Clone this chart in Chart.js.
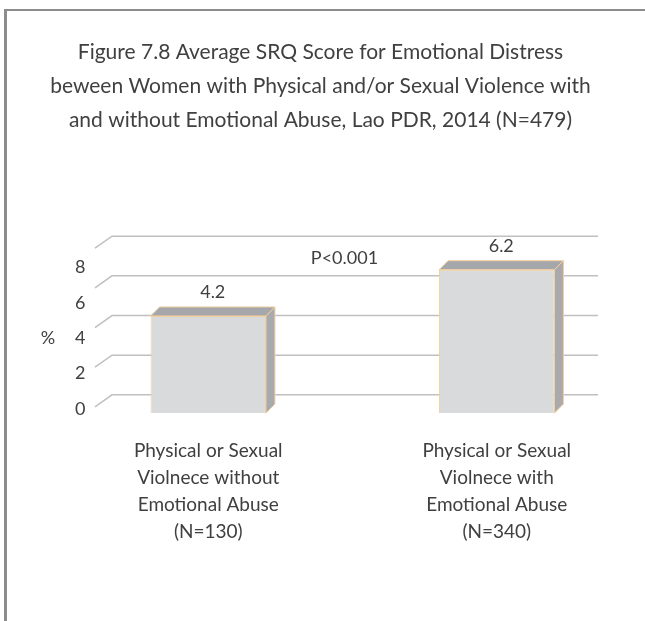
<!DOCTYPE html>
<html>
<head>
<meta charset="utf-8">
<script src="https://cdn.jsdelivr.net/npm/chart.js@4.4.1/dist/chart.umd.min.js"></script>
<style>
  body { margin: 0; background: #fff; }
  #wrap { position: relative; width: 645px; height: 621px; overflow: hidden; }
  #frame { position: absolute; left: 4px; top: 9px; width: 800px; height: 800px;
    border-left: 3px solid #8c8c8c; border-top: 2px solid #8c8c8c; }
  canvas { position: absolute; left: 0; top: 0; }
</style>
</head>
<body>
<div id="wrap">
  <div id="frame"></div>
  <canvas id="srq-chart" width="645" height="621"></canvas>
</div>
<script>
const titleLines = [
  'Figure 7.8 Average SRQ Score for Emotional Distress',
  'beween Women with Physical and/or Sexual Violence with',
  'and without Emotional Abuse, Lao PDR, 2014 (N=479)'
]
const categories = [
  ['Physical or Sexual', 'Violnece without', 'Emotional Abuse', '(N=130)'],
  ['Physical or Sexual', 'Violnece with', 'Emotional Abuse', '(N=340)']
]
const scores = [4.2, 6.2]
const yTicks = [0, 2, 4, 6, 8]
const pValueText = 'P<0.001'
const pValueAt = 6.7
const axisUnit = '%'

const FONT = 'Lato'
const depth = 9
Chart.defaults.color = '#404040'
Chart.defaults.font.family = FONT

// back wall grid, 3d faces and the extra texts
const bar3d = {
  id: 'bar3d',
  beforeDatasetsDraw(chart) {
    const ctx = chart.ctx
    const g = chart.scales.yGrid
    ctx.save()
    ctx.strokeStyle = '#c0c0c0'
    ctx.lineWidth = 1.5
    yTicks.forEach(v => {
      const py = g.getPixelForValue(v)
      ctx.beginPath()
      ctx.moveTo(95, py + 12)
      ctx.lineTo(112, py)
      ctx.lineTo(598, py)
      ctx.stroke()
    })
    ctx.restore()
  },
  afterDatasetsDraw(chart) {
    const ctx = chart.ctx
    const bars = chart.getDatasetMeta(0).data
    ctx.save()
    ctx.strokeStyle = '#f2cf9e'
    ctx.lineWidth = 1
    bars.forEach(bar => {
      const left = bar.x - bar.width / 2
      const right = bar.x + bar.width / 2
      const top = bar.y
      const bottom = bar.base
      // top face
      ctx.beginPath()
      ctx.moveTo(left, top)
      ctx.lineTo(left + depth, top - depth)
      ctx.lineTo(right + depth, top - depth)
      ctx.lineTo(right, top)
      ctx.closePath()
      ctx.fillStyle = '#a6a7ab'
      ctx.fill()
      ctx.stroke()
      // side face
      ctx.beginPath()
      ctx.moveTo(right, top)
      ctx.lineTo(right + depth, top - depth)
      ctx.lineTo(right + depth, bottom - depth)
      ctx.lineTo(right, bottom)
      ctx.closePath()
      ctx.fillStyle = '#a9aaae'
      ctx.fill()
      ctx.stroke()
    })

    ctx.fillStyle = '#404040'
    ctx.textAlign = 'center'
    ctx.textBaseline = 'middle'
    ctx.font = '18px ' + FONT
    bars.forEach((bar, i) => {
      ctx.fillText(scores[i].toFixed(1), bar.x + depth / 2, bar.y - 24)
    })
    const midX = (bars[0].x + bars[1].x) / 2 - 8
    ctx.fillText(pValueText, midX, chart.scales.y.getPixelForValue(pValueAt))
    ctx.fillText(axisUnit, 48, chart.scales.yLab.getPixelForValue(4))
    ctx.restore()
  }
}

const chartConfig = {
  type: 'bar',
  data: {
    labels: categories,
    datasets: [{
      data: scores,
      backgroundColor: '#d9dadc',
      borderColor: '#f2cf9e',
      borderWidth: 1,
      categoryPercentage: 0.8,
      barPercentage: 0.5
    }]
  },
  options: {
    responsive: false,
    animation: false,
    layout: {
      padding: { left: 0, right: 4, top: 0, bottom: 52 }
    },
    plugins: {
      legend: { display: false },
      tooltip: { enabled: false },
      title: {
        display: true,
        text: titleLines,
        color: '#404040',
        font: { family: FONT, size: 21, weight: 'normal', lineHeight: 1.62 },
        padding: { top: 35, bottom: 91 }
      }
    },
    scales: {
      x: {
        grid: { display: false, drawTicks: false },
        border: { display: false },
        ticks: {
          padding: 24,
          maxRotation: 0,
          font: { size: 19, lineHeight: 1.42 }
        }
      },
      y: {
        display: false,
        min: 0,
        max: 8
      },
      yGrid: {
        display: false,
        min: -0.92,
        max: 8.41
      },
      yLab: {
        position: 'left',
        min: -0.23,
        max: 10.23,
        grid: { display: false, drawTicks: false },
        border: { display: false },
        afterBuildTicks: scale => {
          scale.ticks = yTicks.map(v => ({ value: v }))
        },
        afterFit: scale => {
          scale.width = 64
        },
        ticks: {
          mirror: true,
          padding: 11,
          font: { size: 18 }
        }
      }
    }
  },
  plugins: [bar3d]
}

const chartElement = document.getElementById('srq-chart').getContext('2d')
const srqChart = new Chart(chartElement, chartConfig)
</script>
</body>
</html>
